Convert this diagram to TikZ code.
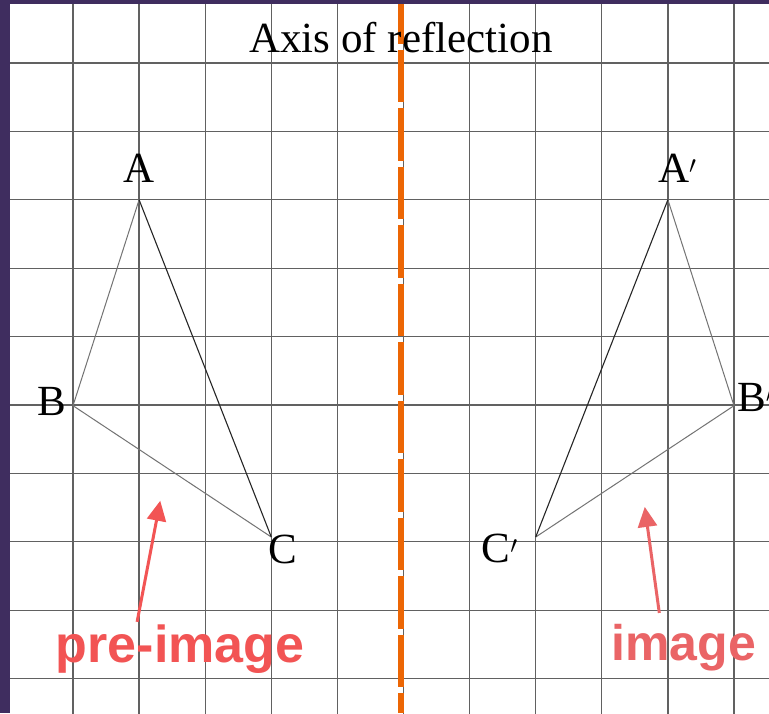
\documentclass[tikz,border=0pt]{standalone}
\usepackage{fontspec}
\setmainfont{Liberation Serif}
\newfontfamily\notefont{Liberation Sans}
\usetikzlibrary{arrows.meta, positioning}

\definecolor{framepurple}{RGB}{63,45,95}
\definecolor{axisorange}{RGB}{236,102,4}
\definecolor{preRed}{RGB}{242,84,84}
\definecolor{imgRed}{RGB}{234,100,102}

\begin{document}
\begin{tikzpicture}[x=66.1pt, y=-68.4pt,
  gridline/.style={black!62, line width=1.3pt},
  edge/.style={black!55, line width=1pt},
  darkedge/.style={black!85, line width=1.1pt},
  ptlabel/.style={inner sep=0pt, font=\fontsize{43}{43}\selectfont},
  note/.style={inner sep=0pt, font=\notefont\bfseries\fontsize{#1}{#1}\selectfont},
  notearrow/.style={line width=3pt, -{Triangle[length=20pt,width=19pt]}}]
\useasboundingbox (-1.1044,-0.9211) rectangle (10.5295,9.5029);
\clip (-1.1044,-0.9211) rectangle (10.5295,9.5029);
\fill [white] (-1.1044,-0.9211) rectangle (10.5295,9.5029);
\foreach \i in {0,...,10}
  \draw [gridline] (\i,-0.95) -- (\i,9.55);
\foreach \j in {0,...,9}
  \draw [gridline] (-1.15,\j) -- (10.55,\j);
\draw [axisorange, line width=6pt, dash pattern=on 52.5pt off 6pt, dash phase=9pt] (4.96,-0.9211) -- (4.96,9.5029);
\node (title) at (4.962,-0.16) [anchor=base, ptlabel] {Axis of reflection};
\coordinate (A) at (1,2);
\coordinate (B) at (0,5.01);
\coordinate (C) at (3,6.93);
\coordinate (Ap) at (9,2);
\coordinate (Bp) at (10,5.01);
\coordinate (Cp) at (7,6.93);
\draw [edge] (A) -- (B) -- (C);
\draw [darkedge] (A) -- (C);
\draw [edge] (Ap) -- (Bp) -- (Cp);
\draw [darkedge] (Ap) -- (Cp);
\node (lA) at (1,1.74) [anchor=base, ptlabel] {A};
\node (lB) at (-0.106,5.15) [anchor=base east, ptlabel] {B};
\node (lC) at (2.95,7.31) [anchor=base west, ptlabel] {C};
\node (lAp) at (8.85,1.75) [anchor=base west, ptlabel] {A$'$};
\node (lBp) at (10.045,5.10) [anchor=base west, ptlabel] {B$'$};
\node (lCp) at (6.73,7.30) [anchor=base east, ptlabel] {C$'$};
\node (lPre) at (1.62,8.77) [anchor=base, note=52, text=preRed] {pre-image};
\node (lImg) at (9.24,8.73) [anchor=base, note=50, text=imgRed] {image};
\coordinate (preTail) at (0.97,8.17);
\coordinate (preTip) at (1.32,6.40);
\coordinate (imgTail) at (8.87,8.04);
\coordinate (imgTip) at (8.65,6.49);
\draw [notearrow, preRed] (preTail) -- (preTip);
\draw [notearrow, imgRed] (imgTail) -- (imgTip);
\fill [framepurple] (-1.1044,-0.9211) rectangle (-0.9531,9.5029);
\fill [framepurple] (-1.1044,-0.9211) rectangle (10.5295,-0.8626);
\end{tikzpicture}
\end{document}
